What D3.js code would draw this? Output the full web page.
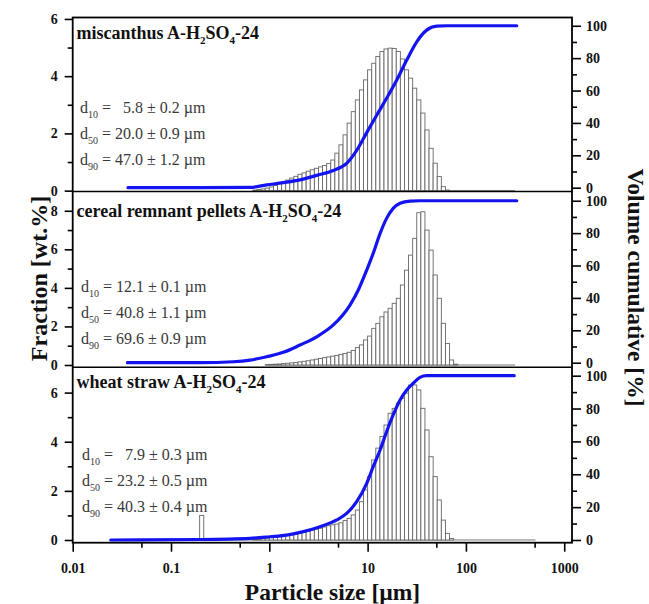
<!DOCTYPE html>
<html>
<head>
<meta charset="utf-8">
<title>Particle size distributions</title>
<script src="https://d3js.org/d3.v7.min.js"></script>
<style>
  body { margin: 0; background: #fff; }
</style>
</head>
<body>
<script>
// size classes of the analyser, lower edges in µm (last one closes the last bar)
const sizeClasses = [
  0.1957, 0.2154, 0.2371, 0.2610, 0.2873, 0.3162, 0.3481, 0.3831, 0.4217, 0.4642, 0.5109, 0.5623,
  0.6190, 0.6813, 0.7499, 0.8254, 0.9085,
  1.000, 1.101, 1.212, 1.334, 1.468, 1.616, 1.778, 1.957, 2.154, 2.371, 2.610, 2.873,
  3.162, 3.481, 3.831, 4.217, 4.642, 5.109, 5.623, 6.190, 6.813, 7.499, 8.254, 9.085,
  10.00, 11.01, 12.12, 13.34, 14.68, 16.16, 17.78, 19.57, 21.54, 23.71, 26.10, 28.73,
  31.62, 34.81, 38.31, 42.17, 46.42, 51.09, 56.23, 61.90, 68.13, 74.99, 82.54, 90.85,
  100.0, 110.1, 121.2, 133.4, 146.8, 161.6, 177.8, 195.7, 215.4, 237.1, 261.0, 287.3,
  316.2, 348.1, 383.1, 421.7, 464.2, 510.9
];

// fraction per class [wt.%], each series starts at the given class
const miscanthusStart = 0.6813;
const miscanthusFraction = [
  0.02, 0.04, 0.06, 0.09, 0.13, 0.18, 0.24, 0.30, 0.37, 0.44, 0.50, 0.57, 0.62, 0.68, 0.73, 0.78, 0.83, 0.88, 0.95,
  1.07, 1.31, 1.60, 1.95, 2.36, 2.76, 3.17, 3.52, 3.87, 4.22, 4.45, 4.69, 4.86, 4.95, 4.98, 4.97, 4.86, 4.60,
  4.22, 3.93, 3.58, 3.17, 2.71, 2.12, 1.48, 0.96, 0.49, 0.14, 0.02,
  0, 0, 0, 0, 0, 0, 0, 0, 0, 0, 0, 0, 0, 0, 0, 0
];
const cerealStart = 0.9085;
const cerealFraction = [
  0.02, 0.03, 0.04, 0.05, 0.07, 0.09, 0.11, 0.13, 0.16, 0.19, 0.22, 0.26, 0.30, 0.34, 0.38, 0.42, 0.46, 0.50, 0.55, 0.60, 0.66,
  0.75, 0.90, 1.04, 1.30, 1.50, 1.90, 2.16, 2.50, 2.75, 2.94, 3.20, 3.46, 4.15, 4.92, 5.70, 6.57, 7.90, 7.95,
  7.00, 5.96, 4.67, 3.46, 2.16, 1.12, 0.26, 0.04,
  0, 0, 0, 0, 0, 0, 0, 0, 0, 0, 0, 0, 0, 0
];
const wheatStart = 0.1957;
const wheatFraction = [
  1.00, 0, 0, 0, 0, 0, 0, 0, 0, 0, 0, 0, 0,
  0.02, 0.04, 0.06, 0.08,
  0.10, 0.12, 0.14, 0.16, 0.18, 0.21, 0.24, 0.27, 0.31, 0.35, 0.40, 0.44, 0.48, 0.53, 0.58, 0.62, 0.65, 0.70, 0.79, 0.88,
  1.02, 1.22, 1.56, 2.04, 2.58, 3.26, 3.74, 4.21, 4.68, 5.16, 5.36, 5.57, 5.77, 5.98, 6.31, 6.31,
  6.11, 5.36, 4.48, 3.39, 2.58, 1.63, 0.81, 0.27, 0.06,
  0, 0, 0, 0, 0, 0, 0, 0, 0, 0, 0, 0, 0, 0, 0, 0, 0, 0, 0, 0
];

// cumulative volume curves [%]
const miscanthusCumSize = [0.0365, 0.197, 0.637, 0.942, 1.39, 2.05, 3.03, 4.48, 6.12, 7.74, 9.79, 12.4, 15.6, 19.8, 25.0, 31.6, 39.9, 50.5, 63.8, 329];
const miscanthusCum     = [0, 0, 0.2, 1.7, 3.1, 4.8, 7.6, 10.6, 15.0, 23.0, 34.0, 44.9, 55.2, 66.5, 78.8, 90.1, 97.3, 99.8, 100, 100];
const cerealCumSize = [0.036, 0.197, 0.43, 0.637, 0.942, 1.39, 2.05, 3.03, 4.48, 6.62, 8.04, 9.79, 11.4, 13.4, 15.6, 18.2, 21.4, 27.0, 34.1, 329];
const cerealCum     = [0, 0, 0.6, 1.6, 3.7, 6.4, 10.9, 16.0, 23.3, 35.6, 44.9, 57.2, 67.5, 79.8, 89.1, 95.3, 98.4, 99.8, 100, 100];
const wheatCumSize = [0.0244, 0.197, 0.637, 1.017, 1.50, 2.22, 3.28, 4.85, 6.12, 7.74, 9.79, 11.4, 13.4, 15.6, 18.2, 21.4, 25.0, 29.2, 34.1, 39.9, 310];
const wheatCum     = [0, 0.3, 1.0, 2.0, 3.0, 5.1, 8.1, 12.2, 16.2, 23.3, 34.5, 44.6, 54.8, 65.9, 76.1, 85.2, 91.3, 95.4, 99.0, 100, 100];

// labels
const sampleNames = ["miscanthus", "cereal remnant pellets", "wheat straw"];
const d10Mean = [5.8, 12.1, 7.9],  d10Err = [0.2, 0.1, 0.3];
const d50Mean = [20.0, 40.8, 23.2], d50Err = [0.9, 1.1, 0.5];
const d90Mean = [47.0, 69.6, 40.3], d90Err = [1.2, 0.9, 0.4];

// ticks
const xTicks = [0.01, 0.1, 1, 10, 100, 1000];
const xTickLabels = ["0.01", "0.1", "1", "10", "100", "1000"];
const xMinorTicks = [0.05, 0.5, 5, 50, 500];
const rightTicks = [0, 20, 40, 60, 80, 100];
const rightMinorTicks = [10, 30, 50, 70, 90];
const leftTicks = [[0, 2, 4, 6], [0, 2, 4, 6, 8], [0, 2, 4, 6]];
const leftMinorTicks = [[1, 3, 5], [1, 3, 5, 7], [1, 3, 5]];

const fractions = [miscanthusFraction, cerealFraction, wheatFraction];
const starts = [miscanthusStart, cerealStart, wheatStart];
const cumSizes = [miscanthusCumSize, cerealCumSize, wheatCumSize];
const cums = [miscanthusCum, cerealCum, wheatCum];

// layout of the three stacked panels
var W = 649, H = 604;
var left = 72.7, right = 572;
var boxes = [
  { top: 17.5,  bottom: 191.5, yLeft: [-0.03, 6.05], yRight: [-2.35, 105.1], titleDy: 21.5, textX: 80, textDy: 95.2 },
  { top: 191.5, bottom: 367.3, yLeft: [-0.12, 9.0],  yRight: [-2.84, 105.7], titleDy: 25.2, textX: 81, textDy: 100.2 },
  { top: 367.3, bottom: 542.7, yLeft: [-0.11, 7.03], yRight: [-1.64, 105.1], titleDy: 21,   textX: 82, textDy: 92.7 }
];
var serif = "'Liberation Serif', 'Times New Roman', serif";

var svg = d3.select("body").append("svg")
    .attr("width", W)
    .attr("height", H)
    .style("font-family", serif);

var x = d3.scaleLog().domain([0.01, 1200]).range([left, right]);

boxes.forEach(function(box, p) {
  var yL = d3.scaleLinear().domain(box.yLeft).range([box.bottom, box.top]);
  var yR = d3.scaleLinear().domain(box.yRight).range([box.bottom, box.top]);
  var g = svg.append("g");

  // histogram bars
  var s = sizeClasses.indexOf(starts[p]);
  var bars = fractions[p].map(function(v, i) {
    return { lo: sizeClasses[s + i], hi: sizeClasses[s + i + 1], v: v };
  });
  g.append("line")
      .attr("x1", x(bars[0].lo)).attr("x2", x(bars[bars.length - 1].hi))
      .attr("y1", yL(0)).attr("y2", yL(0))
      .attr("stroke", "#777").attr("stroke-width", 1);
  g.selectAll("rect.bar")
      .data(bars.filter(function(d) { return d.v > 0; }))
      .enter().append("rect")
      .attr("class", "bar")
      .attr("x", function(d) { return x(d.lo); })
      .attr("width", function(d) { return x(d.hi) - x(d.lo); })
      .attr("y", function(d) { return yL(d.v); })
      .attr("height", function(d) { return yL(0) - yL(d.v); })
      .attr("fill", "white")
      .attr("stroke", "#666")
      .attr("stroke-width", 0.9);

  // cumulative curve
  var pts = cumSizes[p].map(function(sz, i) { return [sz, cums[p][i]]; });
  g.append("path")
      .attr("d", d3.line()
        .x(function(d) { return x(d[0]); })
        .y(function(d) { return yR(d[1]); })
        .curve(d3.curveMonotoneX)(pts))
      .attr("fill", "none")
      .attr("stroke", "#1414f0")
      .attr("stroke-width", 3.2)
      .attr("stroke-linecap", "round");

  // left axis
  g.append("g").attr("transform", "translate(" + left + ",0)")
      .call(d3.axisLeft(yL).tickValues(leftTicks[p]).tickSize(8).tickPadding(7).tickFormat(d3.format("d")));
  g.append("g").attr("transform", "translate(" + left + ",0)")
      .call(d3.axisLeft(yL).tickValues(leftMinorTicks[p]).tickSize(5).tickFormat(""));
  // right axis
  g.append("g").attr("transform", "translate(" + right + ",0)")
      .call(d3.axisRight(yR).tickValues(rightTicks).tickSize(9).tickPadding(5).tickFormat(d3.format("d")));
  g.append("g").attr("transform", "translate(" + right + ",0)")
      .call(d3.axisRight(yR).tickValues(rightMinorTicks).tickSize(5).tickFormat(""));

  // panel title with subscripts
  var t = g.append("text")
      .attr("x", 76.5)
      .attr("y", box.top + box.titleDy)
      .attr("font-weight", "bold")
      .attr("font-size", 18)
      .attr("fill", "#111");
  t.append("tspan").text(sampleNames[p] + " A-H");
  t.append("tspan").attr("dy", 5).attr("font-size", 11).text("2");
  t.append("tspan").attr("dy", -5).text("SO");
  t.append("tspan").attr("dy", 5).attr("font-size", 11).text("4");
  t.append("tspan").attr("dy", -5).text("-24");

  // d10 / d50 / d90
  var rows = [[d10Mean[p], d10Err[p]], [d50Mean[p], d50Err[p]], [d90Mean[p], d90Err[p]]];
  var subs = ["10", "50", "90"];
  rows.forEach(function(r, j) {
    var dt = g.append("text")
        .attr("x", box.textX)
        .attr("y", box.top + box.textDy + j * 26)
        .attr("xml:space", "preserve")
        .style("white-space", "pre")
        .attr("font-size", 16)
        .attr("fill", "#383838");
    dt.append("tspan").text("d");
    dt.append("tspan").attr("dy", 5).attr("font-size", 10).text(subs[j]);
    dt.append("tspan").attr("dy", -5)
      .text(" = " + (r[0] < 10 ? "  " : "") + r[0].toFixed(1) + " \u00b1 " + r[1].toFixed(1) + " \u00b5m");
  });
});

// bottom x axis
svg.append("g").attr("transform", "translate(0," + boxes[2].bottom + ")")
    .call(d3.axisBottom(x).tickValues(xTicks).tickSize(9).tickPadding(11)
      .tickFormat(function(d, i) { return xTickLabels[i]; }));
svg.append("g").attr("transform", "translate(0," + boxes[2].bottom + ")")
    .call(d3.axisBottom(x).tickValues(xMinorTicks).tickSize(5).tickFormat(""));

// styling of all axes
svg.selectAll(".domain").remove();
svg.selectAll(".tick line").attr("stroke", "#000").attr("stroke-width", 1.6);
svg.selectAll(".tick text")
    .attr("fill", "#111")
    .attr("font-family", serif)
    .attr("font-weight", "bold")
    .attr("font-size", 14);

// frame and panel dividers
svg.append("rect")
    .attr("x", left).attr("y", boxes[0].top)
    .attr("width", right - left).attr("height", boxes[2].bottom - boxes[0].top)
    .attr("fill", "none").attr("stroke", "#000").attr("stroke-width", 1.8);
[boxes[0].bottom, boxes[1].bottom].forEach(function(yy) {
  svg.append("line")
      .attr("x1", left).attr("x2", right).attr("y1", yy).attr("y2", yy)
      .attr("stroke", "#000").attr("stroke-width", 1.6);
});

// axis titles
svg.append("text")
    .attr("transform", "translate(46.5,278.5) rotate(-90)")
    .attr("text-anchor", "middle")
    .attr("font-weight", "bold")
    .attr("font-size", 24)
    .attr("fill", "#111")
    .text("Fraction [wt.%]");
svg.append("text")
    .attr("transform", "translate(628,287.5) rotate(90)")
    .attr("text-anchor", "middle")
    .attr("font-weight", "bold")
    .attr("font-size", 23.5)
    .attr("fill", "#111")
    .text("Volume cumulative [%]");
svg.append("text")
    .attr("x", 332.5)
    .attr("y", 600)
    .attr("text-anchor", "middle")
    .attr("font-weight", "bold")
    .attr("font-size", 23.5)
    .attr("fill", "#111")
    .text("Particle size [\u00b5m]");
</script>
</body>
</html>
